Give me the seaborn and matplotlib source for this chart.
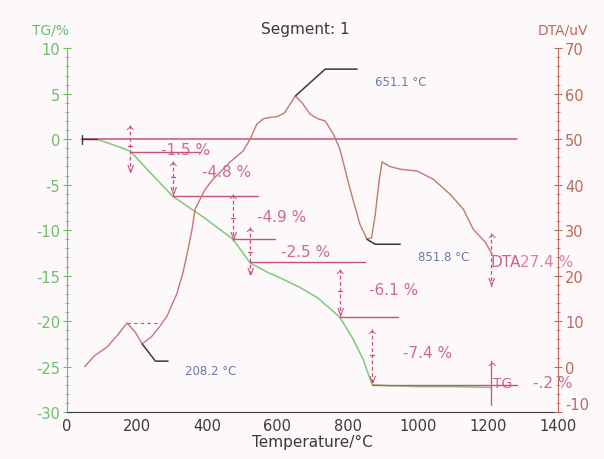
import matplotlib
matplotlib.use("Agg")
import matplotlib.pyplot as plt
import seaborn as sns
import numpy as np
from matplotlib.ticker import MultipleLocator

# ---------------- data ----------------
tg_temp = [40, 85, 130, 180, 240, 302, 390, 473, 522, 570, 616, 664, 713, 758, 778,
           816, 844, 870, 920, 1000, 1100, 1210]
tg_val = [0.0, 0.0, -0.6, -1.3, -3.8, -6.3, -8.6, -11.0, -13.6, -14.6, -15.4, -16.3,
          -17.4, -18.9, -19.6, -22.0, -24.2, -27.0, -27.1, -27.2, -27.2, -27.3]

dta_temp = [50, 80, 114, 145, 171, 195, 214, 240, 265, 285, 313, 331, 345, 356, 365,
            394, 416, 440, 465, 502, 522, 541, 560, 580, 600, 620, 636, 651, 670, 693,
            715, 736, 760, 778, 807, 835, 855, 868, 878, 890, 898, 920, 950, 998, 1044,
            1092, 1130, 1158, 1192, 1212]
dta_val = [0.0, 2.5, 4.3, 7.0, 9.6, 7.5, 5.0, 6.5, 8.9, 11.1, 16.0, 20.8, 25.8, 30.0,
           34.6, 39.0, 41.2, 43.0, 45.0, 47.4, 50.0, 53.3, 54.5, 54.8, 55.0, 55.8, 57.7,
           59.5, 58.0, 55.5, 54.5, 54.0, 51.0, 47.8, 39.0, 31.3, 28.0, 28.3, 33.0, 41.0,
           45.0, 44.0, 43.4, 43.0, 41.2, 37.9, 34.6, 30.2, 27.4, 24.7]

step_temps = [180, 302, 473, 522, 778, 870]
step_levels = [-1.4, -6.3, -11.0, -13.5, -19.6, -27.0]
step_ends = [380, 545, 593, 850, 944, 1283]
step_labels = ["-1.5 %", "-4.8 %", "-4.9 %", "-2.5 %", "-6.1 %", "-7.4 %"]

peak_temps = [208.2, 651.1, 851.8]
peak_labels = ["208.2 °C", "651.1 °C", "851.8 °C"]

x_ticks = [0, 200, 400, 600, 800, 1000, 1200, 1400]
tg_ticks = [10, 5, 0, -5, -10, -15, -20, -25, -30]
dta_ticks = [70, 60, 50, 40, 30, 20, 10, 0, -10]

# ---------------- style ----------------
sns.set_style("white")
plt.rcParams['font.family'] = ['DejaVu Sans']

GREEN = "#7ccb78"
GREEN_AX = "#6cbf6a"
DTA_C = "#c27a70"
DTA_AX = "#b96b5c"
MAG = "#c8507c"
BLUE = "#6878a8"
DARK = "#3a3a3a"
BG = "#fdf8fa"

fig = plt.figure(figsize=(6.04, 4.6), dpi=100, facecolor=BG)
ax = fig.add_axes([0.111, 0.102, 0.813, 0.791])
ax.set_facecolor(BG)
ax2 = ax.twinx()

# curves
sns.lineplot(x=tg_temp, y=tg_val, ax=ax, color=GREEN, lw=1.1, sort=False, estimator=None)
sns.lineplot(x=dta_temp, y=dta_val, ax=ax2, color=DTA_C, lw=1.0, sort=False, estimator=None)

ax.set_xlim(0, 1400)
ax.set_ylim(-30, 10)
ax2.set_ylim(-10, 70)

# zero line
ax.plot([43, 1283], [0, 0], color=MAG, lw=1.1)
ax.plot([43, 85], [0, 0], color=DARK, lw=1.0)
ax.plot([43, 43], [-0.5, 0.5], color=DARK, lw=1.0)

# step annotation spans (top, plus, bottom) in TG units
spans = [(1.6, -0.7, -3.8), (-2.4, -4.2, -6.3), (-6.0, -8.7, -11.2),
         (-9.7, -12.4, -15.1), (-14.3, -16.7, -19.6), (-20.9, -23.7, -27.0)]
label_pos = [(337, -1.1), (456, -3.6), (613, -8.5), (679, -12.3), (930, -16.5), (1029, -23.4)]
for t, lv, e, lab, (top, mid, bot), (lx, ly) in zip(step_temps, step_levels, step_ends,
                                                    step_labels, spans, label_pos):
    ax.plot([t, e], [lv, lv], color=MAG, lw=1.0)
    ax.plot([t, t], [top, bot], color=MAG, lw=0.9, ls=(0, (3, 2)))
    ax.text(t, top, "^", color=MAG, ha="center", va="top", fontsize=9)
    ax.text(t, bot, "v", color=MAG, ha="center", va="bottom", fontsize=9)
    ax.plot([t - 6, t + 6], [mid, mid], color=MAG, lw=0.9)
    ax.text(lx, ly, lab, color=MAG, ha="center", va="center", fontsize=11, alpha=0.85)

# final TG marker at 1210
ax.plot([1210, 1210], [-24.4, -29.2], color=MAG, lw=0.9)
ax.text(1210, -24.4, "^", color=MAG, ha="center", va="top", fontsize=9)
ax.text(1243, -26.8, "TG", color=MAG, ha="center", va="center", fontsize=10, alpha=0.85)
ax.text(1386, -26.7, "-.2 %", color=MAG, ha="center", va="center", fontsize=11,
        alpha=0.85, clip_on=False)

# DTA marker at 1210
ax.plot([1210, 1210], [-10.3, -16.3], color=MAG, lw=0.9, ls=(0, (3, 2)))
ax.text(1210, -10.3, "^", color=MAG, ha="center", va="top", fontsize=9)
ax.text(1210, -16.3, "v", color=MAG, ha="center", va="bottom", fontsize=9)
ax.text(1206, -13.4, "DTA", color=MAG, ha="left", va="center", fontsize=11, alpha=0.9)
ax.text(1290, -13.4, "27.4 %", color=MAG, ha="left", va="center", fontsize=11,
        alpha=0.7, clip_on=False)

# peak leader lines (DTA coordinates)
ax2.plot([171, 257], [9.6, 9.6], color=MAG, lw=0.8, ls=(0, (3, 3)))
leaders = [[(214, 5.0), (252, 1.2), (288, 1.2)],
           [(651, 59.5), (736, 65.4), (827, 65.4)],
           [(855, 28.0), (878, 26.9), (950, 26.9)]]
for pts in leaders:
    xs, ys = zip(*pts)
    ax2.plot(xs, ys, color=DARK, lw=1.1)
peak_text_pos = [(336, -0.8), (878, 62.6), (1000, 24.3)]
for lab, (px, py) in zip(peak_labels, peak_text_pos):
    ax2.text(px, py, lab, color=BLUE, ha="left", va="center", fontsize=8.5)

# axes styling
ax.spines["top"].set_visible(False)
ax2.spines["top"].set_visible(False)
ax.spines["left"].set_color(GREEN_AX)
ax2.spines["left"].set_visible(False)
ax2.spines["right"].set_color(DTA_AX)
ax.spines["right"].set_visible(False)
ax.spines["bottom"].set_color(DARK)
ax2.spines["bottom"].set_visible(False)

ax.set_xticks(x_ticks)
ax.set_xticklabels([str(v) for v in x_ticks])
ax.xaxis.set_minor_locator(MultipleLocator(20))
ax.set_yticks(tg_ticks)
ax.set_yticklabels([str(v) for v in tg_ticks])
ax.yaxis.set_minor_locator(MultipleLocator(1))
ax2.set_yticks(dta_ticks)
ax2.set_yticklabels([str(v) for v in dta_ticks])
ax2.yaxis.set_minor_locator(MultipleLocator(2))

ax.tick_params(axis="x", which="major", direction="in", length=5, color=DARK,
               labelsize=10.5, labelcolor=DARK, pad=4)
ax.tick_params(axis="x", which="minor", direction="in", length=2.5, color=DARK)
ax.tick_params(axis="y", which="major", direction="inout", length=6, color=GREEN_AX,
               labelsize=10.5, labelcolor=GREEN_AX, pad=2)
ax.tick_params(axis="y", which="minor", direction="inout", length=3, color=GREEN_AX)
ax2.tick_params(axis="y", which="major", direction="inout", length=6, color=DTA_AX,
                labelsize=10.5, labelcolor=DTA_AX, pad=2)
ax2.tick_params(axis="y", which="minor", direction="inout", length=3, color=DTA_AX)
# nudge the lowest right-hand label up so it clears the "1400" tick label
lowest = ax2.get_yticklabels()[-1]
lowest.set_verticalalignment("bottom")

ax.set_xlabel("Temperature/°C", fontsize=11, color=DARK, labelpad=1)
ax.set_ylabel("")
ax2.set_ylabel("")

fig.text(0.505, 0.935, "Segment: 1", ha="center", va="center", fontsize=11, color=DARK)
fig.text(0.083, 0.933, "TG/%", ha="center", va="center", fontsize=10, color=GREEN_AX)
fig.text(0.932, 0.933, "DTA/uV", ha="center", va="center", fontsize=10, color=DTA_AX)

fig.savefig("out.png", dpi=100, facecolor=BG)
